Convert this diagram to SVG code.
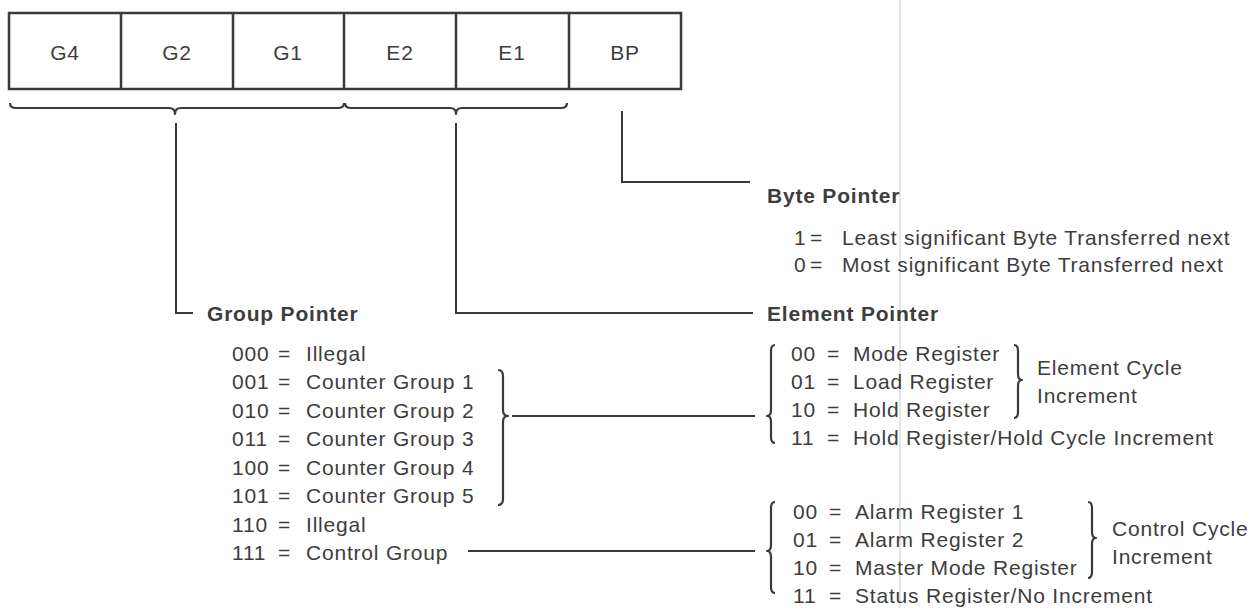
<svg xmlns="http://www.w3.org/2000/svg" width="1254" height="608" viewBox="0 0 1254 608">
<style>
text{font-family:"Liberation Sans",Arial,sans-serif;font-size:21px;fill:#3d3d3d;letter-spacing:0.8px}
.h{font-weight:bold}
.c{text-anchor:middle}
.ln{fill:none;stroke:#3a3a3a;stroke-width:2}
.br{fill:none;stroke:#3a3a3a;stroke-width:2.2;stroke-linejoin:round}
.box{fill:none;stroke:#3a3a3a;stroke-width:2.5}
</style>
<rect width="1254" height="608" fill="#ffffff"/>
<line x1="900" y1="0" x2="900" y2="608" stroke="#e6e6e6" stroke-width="2"/>
<g id="register">
<rect class="box" x="9" y="13" width="672" height="76"/>
<path class="box" d="M121,13V89M233,13V89M344,13V89M456,13V89M569,13V89"/>
<text class="c" x="65" y="60">G4</text>
<text class="c" x="177" y="60">G2</text>
<text class="c" x="288" y="60">G1</text>
<text class="c" x="400" y="60">E2</text>
<text class="c" x="512" y="60">E1</text>
<text class="c" x="625" y="60">BP</text>
</g>
<g id="connectors">
<path class="br" d="M10,103 Q10,108 16,108 L169,108 Q175,108 175,114 Q175,108 181,108 L338,108 Q344,108 344,103"/>
<path class="br" d="M345,103 Q345,108 351,108 L450,108 Q456,108 456,114 Q456,108 462,108 L561,108 Q567,108 567,103"/>
<path class="ln" d="M176,123V313H193"/>
<path class="ln" d="M456,123V313H753"/>
<path class="ln" d="M622,111V182H750"/>
<path class="br" d="M498,370 Q503,370 503,376 L503,410 Q503,416 508,416 Q503,416 503,422 L503,499 Q503,505 498,505"/>
<path class="ln" d="M512,416H755"/>
<path class="ln" d="M468,551H755"/>
<path class="br" d="M775,345 Q771,345 771,351 L771,410 Q771,416 767,416 Q771,416 771,422 L771,437 Q771,443 775,443"/>
<path class="br" d="M1014,345 Q1018,345 1018,351 L1018,374 Q1018,380 1022,380 Q1018,380 1018,386 L1018,412 Q1018,418 1014,418"/>
<path class="br" d="M775,502 Q771,502 771,508 L771,545 Q771,551 767,551 Q771,551 771,557 L771,587 Q771,593 775,593"/>
<path class="br" d="M1088,502 Q1092,502 1092,508 L1092,532 Q1092,538 1096,538 Q1092,538 1092,544 L1092,572 Q1092,578 1088,578"/>
</g>
<g id="byte-pointer">
<text class="h" x="767" y="202.5">Byte Pointer</text>
<text x="794" y="244.5">1</text><text x="810" y="244.5">=</text><text x="842" y="244.5">Least significant Byte Transferred next</text>
<text x="794" y="272">0</text><text x="810" y="272">=</text><text x="842" y="272">Most significant Byte Transferred next</text>
</g>
<g id="group-pointer">
<text class="h" x="207" y="320.5">Group Pointer</text>
<text x="232" y="360.5">000</text><text x="278" y="360.5">=</text><text x="306" y="360.5">Illegal</text>
<text x="232" y="389">001</text><text x="278" y="389">=</text><text x="306" y="389">Counter Group 1</text>
<text x="232" y="417.5">010</text><text x="278" y="417.5">=</text><text x="306" y="417.5">Counter Group 2</text>
<text x="232" y="446">011</text><text x="278" y="446">=</text><text x="306" y="446">Counter Group 3</text>
<text x="232" y="474.5">100</text><text x="278" y="474.5">=</text><text x="306" y="474.5">Counter Group 4</text>
<text x="232" y="503">101</text><text x="278" y="503">=</text><text x="306" y="503">Counter Group 5</text>
<text x="232" y="531.5">110</text><text x="278" y="531.5">=</text><text x="306" y="531.5">Illegal</text>
<text x="232" y="560">111</text><text x="278" y="560">=</text><text x="306" y="560">Control Group</text>
</g>
<g id="element-pointer">
<text class="h" x="767" y="320.5">Element Pointer</text>
<text x="791" y="360.5">00</text><text x="827" y="360.5">=</text><text x="853" y="360.5">Mode Register</text>
<text x="791" y="388.5">01</text><text x="827" y="388.5">=</text><text x="853" y="388.5">Load Register</text>
<text x="791" y="416.5">10</text><text x="827" y="416.5">=</text><text x="853" y="416.5">Hold Register</text>
<text x="791" y="444.5">11</text><text x="827" y="444.5">=</text><text x="853" y="444.5">Hold Register/Hold Cycle Increment</text>
<text x="1037" y="374.5">Element Cycle</text>
<text x="1037" y="402.5">Increment</text>
</g>
<g id="control-registers">
<text x="793" y="518.5">00</text><text x="829" y="518.5">=</text><text x="855" y="518.5">Alarm Register 1</text>
<text x="793" y="546.5">01</text><text x="829" y="546.5">=</text><text x="855" y="546.5">Alarm Register 2</text>
<text x="793" y="574.5">10</text><text x="829" y="574.5">=</text><text x="855" y="574.5">Master Mode Register</text>
<text x="793" y="602.5">11</text><text x="829" y="602.5">=</text><text x="855" y="602.5">Status Register/No Increment</text>
<text x="1112" y="535.5">Control Cycle</text>
<text x="1112" y="563.5">Increment</text>
</g>
</svg>
